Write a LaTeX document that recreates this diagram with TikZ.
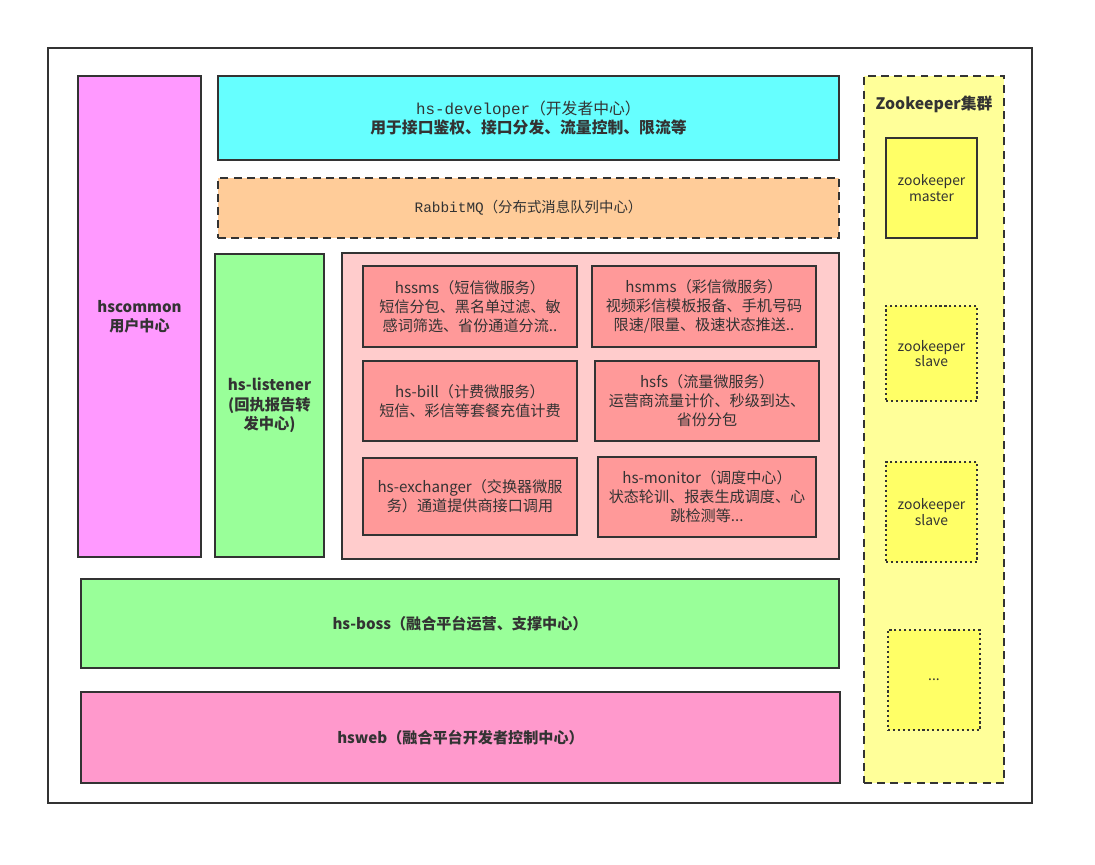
\documentclass[tikz,border=0pt]{standalone}
\usepackage{fontspec}
\setmainfont{Noto Sans CJK SC}
\newfontfamily\monofont{Liberation Mono}
\usetikzlibrary{positioning}
\usepackage{xcolor}
\definecolor{linegray}{RGB}{51,51,51}
\definecolor{usermagenta}{RGB}{255,153,255}
\definecolor{devcyan}{RGB}{102,255,255}
\definecolor{mqorange}{RGB}{255,204,153}
\definecolor{softgreen}{RGB}{153,255,153}
\definecolor{lightpink}{RGB}{255,204,204}
\definecolor{svcred}{RGB}{255,153,153}
\definecolor{webpink}{RGB}{255,153,204}
\definecolor{zkyellow}{RGB}{255,255,153}
\definecolor{zknode}{RGB}{255,255,102}

\begin{document}
\begin{tikzpicture}[
  box/.style={draw=linegray, line width=1.1pt, text=linegray, align=center,
    inner sep=0pt, font=\fontsize{8.6}{10.8}\selectfont},
  svc/.style={box, fill=svcred, font=\fontsize{8.6}{10.8}\selectfont},
  zk/.style={box, fill=zknode, font=\fontsize{7.9}{9}\selectfont},
  dotbox/.style={zk, dash pattern=on 1.2pt off 1.6pt}]
  \useasboundingbox (0,0) rectangle (21.9,-17.3);
  \draw[linegray, line width=0.9pt] (0.96,-0.96) rectangle (20.64,-16.06);
  % left columns
  \node[box, fill=usermagenta, minimum width=2.46cm, minimum height=9.62cm]
    (common) at (2.79,-6.33) {\bfseries hscommon\\\bfseries 用户中心};
  \node[box, fill=softgreen, minimum width=2.18cm, minimum height=6.06cm,
    font=\fontsize{8.7}{11.2}\selectfont]
    (listener) at (5.39,-8.11) {\bfseries hs-listener\\\bfseries (回执报告转\\\bfseries 发中心)};
  % top rows
  \node[box, fill=devcyan, minimum width=12.42cm, minimum height=1.68cm,
    font=\fontsize{9}{11}\selectfont]
    (developer) at (10.57,-2.36) {{\monofont hs-developer}（开发者中心）\\\bfseries 用于接口鉴权、接口分发、流量控制、限流等};
  \node[box, fill=mqorange, dashed, dash pattern=on 4.5pt off 3pt,
    minimum width=12.42cm, minimum height=1.2cm, font=\fontsize{8.2}{10}\selectfont]
    (rabbit) at (10.57,-4.16) {{\monofont RabbitMQ}（分布式消息队列中心）};
  % micro services
  \node[box, fill=lightpink, minimum width=9.94cm, minimum height=6.12cm]
    (micro) at (11.81,-8.12) {};
  \node[svc, minimum width=4.28cm, minimum height=1.62cm] (sms) at (9.4,-6.13)
    {hssms（短信微服务）\\短信分包、黑名单过滤、敏\\感词筛选、省份通道分流..};
  \node[svc, minimum width=4.48cm, minimum height=1.62cm] (mms) at (14.08,-6.13)
    {hsmms（彩信微服务）\\视频彩信模板报备、手机号码\\限速/限量、极速状态推送..};
  \node[svc, minimum width=4.28cm, minimum height=1.6cm] (bill) at (9.4,-8.02)
    {hs-bill（计费微服务）\\短信、彩信等套餐充值计费};
  \node[svc, minimum width=4.48cm, minimum height=1.6cm] (fs) at (14.14,-8.02)
    {hsfs（流量微服务）\\运营商流量计价、秒级到达、\\省份分包};
  \node[svc, minimum width=4.28cm, minimum height=1.54cm] (exchanger) at (9.4,-9.93)
    {hs-exchanger（交换器微服\\务）通道提供商接口调用};
  \node[svc, minimum width=4.36cm, minimum height=1.6cm] (monitor) at (14.14,-9.94)
    {hs-monitor（调度中心）\\状态轮训、报表生成调度、心\\跳检测等...};
  % bottom rows
  \node[box, fill=softgreen, minimum width=15.16cm, minimum height=1.78cm]
    (boss) at (9.2,-12.47) {\bfseries hs-boss（融合平台运营、支撑中心）};
  \node[box, fill=webpink, minimum width=15.18cm, minimum height=1.82cm]
    (web) at (9.21,-14.75) {\bfseries hsweb（融合平台开发者控制中心）};
  % zookeeper cluster
  \node[box, fill=zkyellow, dashed, dash pattern=on 4.5pt off 3pt,
    minimum width=2.8cm, minimum height=14.14cm] (cluster) at (18.68,-8.59) {};
  \node[text=linegray, font=\bfseries\fontsize{9}{11}\selectfont]
    (title) at (18.68,-2.08) {Zookeeper集群};
  \node[zk, minimum width=1.82cm, minimum height=2cm] (master) at (18.63,-3.76)
    {zookeeper\\master};
  \node[dotbox, minimum width=1.82cm, minimum height=1.9cm] (slaveA) at (18.63,-7.07)
    {zookeeper\\slave};
  \node[dotbox, minimum width=1.82cm, minimum height=2cm] (slaveB) at (18.63,-10.24)
    {zookeeper\\slave};
  \node[dotbox, minimum width=1.84cm, minimum height=2cm] (more) at (18.68,-13.6)
    {...};
\end{tikzpicture}
\end{document}
